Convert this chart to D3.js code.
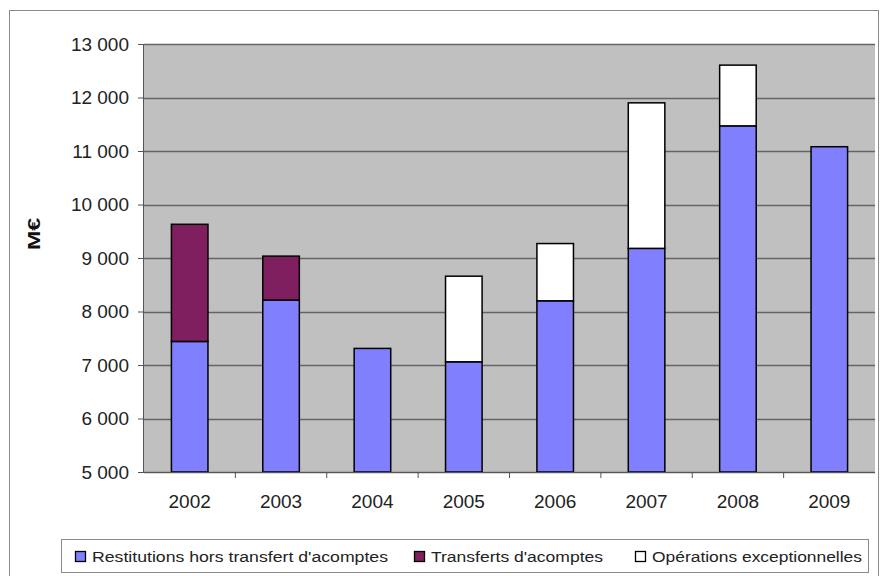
<!DOCTYPE html>
<html>
<head>
<meta charset="utf-8">
<script src="https://cdn.jsdelivr.net/npm/d3@7"></script>
<style>
  body { margin: 0; background: #fff; }
  svg { font-family: "Liberation Sans", Arial, sans-serif; }
</style>
</head>
<body>
<svg id="chart"></svg>
<script>
var years = ["2002", "2003", "2004", "2005", "2006", "2007", "2008", "2009"];
var restitutions = [7440, 8215, 7310, 7060, 8200, 9180, 11470, 11080];
var transferts = [2190, 820, 0, 0, 0, 0, 0, 0];
var exceptionnelles = [0, 0, 0, 1600, 1070, 2720, 1135, 0];
var seriesNames = ["Restitutions hors transfert d'acomptes", "Transferts d'acomptes", "Opérations exceptionnelles"];
var seriesColors = ["#8080ff", "#7f1f5f", "#ffffff"];
var yTicks = [5000, 6000, 7000, 8000, 9000, 10000, 11000, 12000, 13000];

var w = 880, h = 576;
var pLeft = 144, pRight = 875, pTop = 44, pBottom = 472;

var svg = d3.select("#chart").attr("width", w).attr("height", h);

// outer frame
svg.append("rect")
  .attr("x", 9.5).attr("y", 10.5)
  .attr("width", 869).attr("height", 570)
  .attr("fill", "#fff").attr("stroke", "#8a8a8a");

var x = d3.scaleBand().domain(years).range([pLeft, pRight]).paddingInner(0.6).paddingOuter(0.3);
var y = d3.scaleLinear().domain([5000, 13000]).range([pBottom, pTop]);

// plot background
svg.append("rect")
  .attr("x", pLeft).attr("y", pTop)
  .attr("width", pRight - pLeft).attr("height", pBottom - pTop)
  .attr("fill", "#c0c0c0");

// gridlines
svg.selectAll(".grid")
  .data(yTicks)
  .enter()
  .append("line")
  .attr("x1", pLeft).attr("x2", pRight)
  .attr("y1", function(d) { return Math.round(y(d)) + 0.5 })
  .attr("y2", function(d) { return Math.round(y(d)) + 0.5 })
  .attr("stroke", "#646464").attr("stroke-width", 1.3);

// stacked data
var table = years.map(function(yr, i) {
  return { year: yr, a: restitutions[i], b: transferts[i], c: exceptionnelles[i] };
});
var layers = d3.stack().keys(["a", "b", "c"])(table);

svg.selectAll(".layer")
  .data(layers)
  .enter()
  .append("g")
  .attr("fill", function(d, i) { return seriesColors[i] })
  .selectAll("rect")
  .data(function(d) { return d.filter(function(p) { return p[1] - p[0] > 0 }) })
  .enter()
  .append("rect")
  .attr("x", function(d) { return x(d.data.year) })
  .attr("width", x.bandwidth())
  .attr("y", function(d) { return y(Math.min(d[1], 13000)) })
  .attr("height", function(d) { return y(Math.max(d[0], 5000)) - y(Math.min(d[1], 13000)) })
  .attr("stroke", "#000").attr("stroke-width", 1.5);

// y axis
var yAxis = d3.axisLeft(y)
  .tickValues(yTicks)
  .tickSize(6)
  .tickFormat(function(d) { return d3.format(",")(d).replace(",", " ") });
var gy = svg.append("g").attr("transform", "translate(" + pLeft + ",0)").call(yAxis);
gy.select(".domain").attr("stroke", "#555").attr("d", "M-0.5," + pTop + "V" + pBottom);
gy.selectAll(".tick line").attr("stroke", "#555");
gy.selectAll(".tick text").attr("font-size", 19).attr("fill", "#222").attr("x", -15)
  .attr("font-family", "Liberation Sans, Arial, sans-serif");

// x axis
var gx = svg.append("g").attr("transform", "translate(0," + pBottom + ")");
gx.append("line").attr("x1", pLeft).attr("x2", pRight).attr("y1", 0.5).attr("y2", 0.5).attr("stroke", "#555");
gx.selectAll(".xt")
  .data(years.slice(1))
  .enter()
  .append("line")
  .attr("x1", function(d) { return x(d) - (x.step() - x.bandwidth()) / 2 })
  .attr("x2", function(d) { return x(d) - (x.step() - x.bandwidth()) / 2 })
  .attr("y1", 0).attr("y2", 6)
  .attr("stroke", "#555");
gx.selectAll(".xl")
  .data(years)
  .enter()
  .append("text")
  .text(function(d) { return d })
  .attr("x", function(d) { return x(d) + x.bandwidth() / 2 })
  .attr("y", 36)
  .attr("text-anchor", "middle")
  .attr("font-size", 19)
  .attr("fill", "#222");

// y title
svg.append("text")
  .text("M€")
  .attr("transform", "translate(40,234) rotate(-90)")
  .attr("text-anchor", "middle")
  .attr("font-size", 16)
  .attr("textLength", 32)
  .attr("lengthAdjust", "spacingAndGlyphs")
  .attr("font-weight", "bold")
  .attr("fill", "#111");

// legend
var lg = svg.append("g");
lg.append("rect")
  .attr("x", 61.5).attr("y", 539.5)
  .attr("width", 807).attr("height", 33)
  .attr("fill", "#fff").attr("stroke", "#8a8a8a");
var legX = [75, 414, 635];
var legW = [296, 172, 210];
seriesNames.forEach(function(name, i) {
  lg.append("rect")
    .attr("x", legX[i] + 0.5).attr("y", 551.5)
    .attr("width", 10).attr("height", 10)
    .attr("fill", seriesColors[i]).attr("stroke", "#000").attr("stroke-width", 1.3);
  lg.append("text")
    .text(name)
    .attr("x", legX[i] + 17).attr("y", 562)
    .attr("font-size", 15.5)
    .attr("textLength", legW[i])
    .attr("lengthAdjust", "spacingAndGlyphs")
    .attr("fill", "#222");
});
</script>
</body>
</html>
